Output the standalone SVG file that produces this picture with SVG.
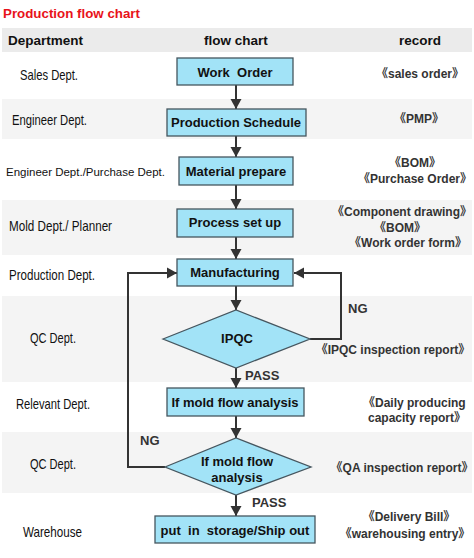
<svg xmlns="http://www.w3.org/2000/svg" width="474" height="558" viewBox="0 0 474 558">
<style>
.band{fill:#f4f4f4}
.hdr{fill:#ebebeb}
.title{font-family:"Liberation Sans",Arial,sans-serif;font-weight:bold;font-size:13.3px;fill:#e8121a}
.h{font-family:"Liberation Sans",Arial,sans-serif;font-weight:bold;font-size:13.5px;fill:#111}
.dept{font-family:"Liberation Sans",Arial,sans-serif;font-size:14.5px;fill:#111}
.rec{font-family:"Liberation Sans","Noto Sans CJK SC",sans-serif;font-weight:bold;font-size:12px;fill:#333;text-anchor:middle}
.recs{font-family:"Liberation Sans","Noto Sans CJK SC",sans-serif;font-weight:bold;font-size:12px;fill:#333}
.box{fill:#a2e3f7;stroke:#46565f;stroke-width:1.3}
.bt{font-family:"Liberation Sans",Arial,sans-serif;font-weight:bold;font-size:13px;fill:#111;text-anchor:middle}
.lbl{font-family:"Liberation Sans",Arial,sans-serif;font-weight:bold;font-size:13px;fill:#333}
.con{fill:none;stroke:#333;stroke-width:2}
</style>
<defs>
<marker id="ah" markerUnits="userSpaceOnUse" markerWidth="11" markerHeight="12" refX="10" refY="6" orient="auto">
<path d="M0,0.5 L10,6 L0,11.5 z" fill="#333"/>
</marker>
</defs>
<rect width="474" height="558" fill="#fff"/>
<g id="background">
<rect class="hdr" x="2" y="28" width="470" height="24"/>
<rect class="band" x="2" y="99" width="470" height="40"/>
<rect class="band" x="2" y="200" width="470" height="55"/>
<rect class="band" x="2" y="296" width="470" height="86"/>
<rect class="band" x="2" y="432" width="470" height="61"/>
</g>
<text class="title" x="3" y="18" textLength="137" lengthAdjust="spacingAndGlyphs">Production flow chart</text>
<g id="header">
<text class="h" x="8" y="45">Department</text>
<text class="h" x="236" y="45" text-anchor="middle">flow chart</text>
<text class="h" x="420" y="45" text-anchor="middle">record</text>
</g>
<g id="departments">
<text class="dept" x="20" y="80" textLength="58" lengthAdjust="spacingAndGlyphs">Sales Dept.</text>
<text class="dept" x="12" y="125" textLength="75" lengthAdjust="spacingAndGlyphs">Engineer Dept.</text>
<text class="dept" x="6" y="176" style="font-size:11.6px" textLength="159" lengthAdjust="spacingAndGlyphs">Engineer Dept./Purchase Dept.</text>
<text class="dept" x="9" y="231" textLength="103" lengthAdjust="spacingAndGlyphs">Mold Dept./ Planner</text>
<text class="dept" x="9" y="280" textLength="86" lengthAdjust="spacingAndGlyphs">Production Dept.</text>
<text class="dept" x="30" y="343" textLength="46" lengthAdjust="spacingAndGlyphs">QC Dept.</text>
<text class="dept" x="16" y="409" textLength="74" lengthAdjust="spacingAndGlyphs">Relevant Dept.</text>
<text class="dept" x="30" y="469" textLength="46" lengthAdjust="spacingAndGlyphs">QC Dept.</text>
<text class="dept" x="23" y="537" textLength="59" lengthAdjust="spacingAndGlyphs">Warehouse</text>
</g>
<g id="records">
<text class="rec" x="420" y="78">《sales order》</text>
<text class="rec" x="419" y="123">《PMP》</text>
<text class="rec" x="415" y="167">《BOM》</text>
<text class="rec" x="415" y="183">《Purchase Order》</text>
<text class="rec" x="402" y="216">《Component drawing》</text>
<text class="rec" x="400" y="232">《BOM》</text>
<text class="rec" x="408" y="247">《Work order form》</text>
<text class="rec" x="393" y="354">《IPQC inspection report》</text>
<text class="recs" x="363" y="407">《Daily producing</text>
<text class="recs" x="368" y="422">capacity report》</text>
<text class="rec" x="402" y="472">《QA inspection report》</text>
<text class="rec" x="409" y="521">《Delivery Bill》</text>
<text class="rec" x="405" y="538">《warehousing entry》</text>
</g>
<g id="connectors">
<path class="con" d="M236,85 V109" marker-end="url(#ah)"/>
<path class="con" d="M236,136 V157" marker-end="url(#ah)"/>
<path class="con" d="M236,185 V209" marker-end="url(#ah)"/>
<path class="con" d="M236,237 V259" marker-end="url(#ah)"/>
<path class="con" d="M236,286 V310" marker-end="url(#ah)"/>
<path class="con" d="M236,368 V388" marker-end="url(#ah)"/>
<path class="con" d="M236,416 V438" marker-end="url(#ah)"/>
<path class="con" d="M236,495 V516" marker-end="url(#ah)"/>
<path class="con" d="M310,339 H341 V273 H294" marker-end="url(#ah)"/>
<path class="con" d="M165,467 H128 V273 H177" marker-end="url(#ah)"/>
<text class="lbl" x="348" y="313">NG</text>
<text class="lbl" x="245" y="380">PASS</text>
<text class="lbl" x="140" y="445">NG</text>
<text class="lbl" x="252" y="507">PASS</text>
</g>
<g id="work-order">
<rect class="box" x="177" y="58" width="116" height="27"/>
<text class="bt" x="235" y="77" xml:space="preserve">Work  Order</text>
</g>
<g id="production-schedule">
<rect class="box" x="167" y="109" width="139" height="27"/>
<text class="bt" x="236" y="127">Production Schedule</text>
</g>
<g id="material-prepare">
<rect class="box" x="179" y="157" width="114" height="28"/>
<text class="bt" x="236" y="176">Material prepare</text>
</g>
<g id="process-set-up">
<rect class="box" x="177" y="209" width="116" height="28"/>
<text class="bt" x="235" y="227">Process set up</text>
</g>
<g id="manufacturing">
<rect class="box" x="177" y="259" width="116" height="27"/>
<text class="bt" x="235" y="277">Manufacturing</text>
</g>
<g id="ipqc">
<polygon class="box" points="163,339 236,310 310,339 236,368"/>
<text class="bt" x="237" y="343">IPQC</text>
</g>
<g id="mold-flow-analysis">
<rect class="box" x="167" y="388" width="137" height="28"/>
<text class="bt" x="235" y="407">If mold flow analysis</text>
</g>
<g id="mold-flow-decision">
<polygon class="box" points="165,467 236,438 311,467 236,495"/>
<text class="bt" x="237" y="466">If mold flow</text>
<text class="bt" x="237" y="482">analysis</text>
</g>
<g id="storage">
<rect class="box" x="155" y="516" width="160" height="27"/>
<text class="bt" x="235" y="535" xml:space="preserve">put  in  storage/Ship out</text>
</g>
</svg>
